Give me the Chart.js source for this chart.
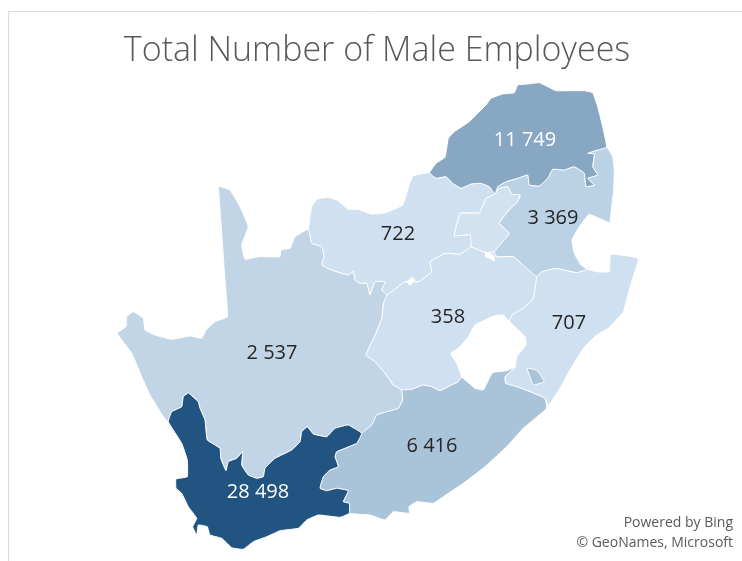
<!DOCTYPE html>
<html>
<head>
<meta charset="utf-8">
<title>Total Number of Male Employees</title>
<script src="https://cdn.jsdelivr.net/npm/chart.js@4"></script>
<style>
    body { margin: 0; background: #fff; }
    canvas { display: block; }
</style>
</head>
<body>
<canvas id="mapChart" width="742" height="561"></canvas>
<script>
// Province values
const provinces = ['Western Cape', 'Limpopo', 'Eastern Cape', 'Mpumalanga', 'Northern Cape', 'North West', 'KwaZulu-Natal', 'Free State', 'Gauteng'];
const maleEmployees = [28498, 11749, 6416, 3369, 2537, 722, 707, 358, null];
const fillColours = ['#215480', '#87a7c2', '#a9c3d9', '#bbd1e5', '#c1d5e6', '#cfe0f0', '#cfe0f0', '#cfe0f0', '#d2e2f1'];
const labelColours = ['#ffffff', '#ffffff', '#262626', '#262626', '#262626', '#262626', '#262626', '#262626', null];
const labelAnchors = [[258, 492], [525, 140], [432, 446], [553, 218], [272, 353], [398, 234], [569, 323], [448, 317], null];

// Province outlines, in map units
const westernCape = [[188.3,392.7],[198.3,401.7],[200,408.3],[205,420],[207.3,440],[220,448.3],[220.7,458.3],[226,470.7],[228.3,461.7],[236.7,458.3],[242.7,451.7],[241.7,465],[248.3,475],[256.7,478.3],[263.3,476.7],[265,468.3],[275,458.3],[291.7,450],[300,441.7],[301.7,431.7],[307.3,426.7],[313.3,434],[326.7,436.7],[335,428.3],[348.3,425],[361.7,433.3],[356.7,443.3],[336.7,451.7],[335,456.7],[338.3,466.7],[330,470],[323.3,476.7],[320,488.3],[326.7,490.7],[336.7,488.3],[348.3,490.7],[343.3,501.7],[349.3,503.3],[349.3,513.3],[340,517.3],[318.3,515],[306.7,520],[298.3,528.3],[280,530.7],[266.7,536.7],[253.3,541.7],[243.3,549.3],[231.7,547.7],[221.7,538.3],[210,535],[207.3,526.7],[198.3,525],[196.7,535],[192.7,526.7],[196.7,518.3],[188.3,506.7],[181.7,493.3],[176,488.3],[176,479],[187.3,476.7],[187.3,460],[181.7,443.3],[168.3,421.7],[171.7,411.7],[181.7,406.7],[183.3,396.7]];
const limpopo = [[429.3,172.7],[436,163.3],[445,157.3],[448.3,138.3],[454.3,131.7],[461,127.3],[469.3,121.7],[477.7,113.3],[486,105],[491,98.3],[502.7,94],[514.3,92.7],[517.7,85],[527.7,84],[539.3,82.7],[547.7,86.7],[556,90.7],[571,90.7],[584.3,90.7],[592.7,92.7],[597.7,106.7],[602.7,126.7],[606.7,147.3],[597.7,150],[587.7,153.3],[594.3,154],[592.7,166.7],[597.7,175],[587.7,178.3],[594.3,185],[586,186.7],[584.3,173.3],[574.3,166.7],[564.3,170],[552.7,169.3],[547.7,178.3],[539.3,186],[529.3,185],[527.7,175],[517.7,178.3],[506,181.7],[497.7,186.7],[495,194],[489.3,186.7],[481,183.3],[471,184],[461,188.3],[452.7,183.3],[446,176.7],[436,178.3]];
const easternCape = [[401.7,390],[411.7,389.3],[423.3,385],[431.7,386.7],[440,390.7],[451.7,385],[458.3,381.7],[461.7,377.3],[475,388.3],[483.3,390],[490,376.7],[493.3,372.3],[506.7,370.7],[515,367.3],[505,376.7],[505.7,383.3],[516.7,386.7],[530,391.7],[545,398.3],[546.7,408.3],[533.3,420],[523.3,428.3],[506.7,446.7],[485,466.7],[463.3,483.3],[443.3,496.7],[433.3,503.3],[416.7,501.7],[409,506.7],[409.3,513.3],[393.3,511.7],[385,520],[370,515],[349.3,513.3],[349.3,503.3],[343.3,501.7],[348.3,490.7],[336.7,488.3],[326.7,490.7],[320,488.3],[323.3,476.7],[330,470],[338.3,466.7],[335,456.7],[336.7,451.7],[356.7,443.3],[361.7,433.3],[371.7,425],[376.7,415],[398.3,408.3],[402.7,400]];
const umzimkulu = [[526.7,368.3],[536.7,370],[544.3,381.7],[533.3,385],[530,376.7]];
const mpumalanga = [[495,194],[497.7,186.7],[506,181.7],[517.7,178.3],[527.7,175],[529.3,185],[539.3,186],[547.7,178.3],[552.7,169.3],[564.3,170],[574.3,166.7],[584.3,173.3],[586,186.7],[594.3,185],[587.7,178.3],[597.7,175],[592.7,166.7],[594.3,154],[587.7,153.3],[597.7,150],[606.7,147.3],[612.7,156.7],[614.3,170],[613.7,190],[611.7,206.7],[609.7,222.7],[602.7,220],[589.3,214.3],[579.3,226.7],[572,240],[574.3,253.3],[581,265],[586.7,269.3],[576.7,272.7],[556.7,268.3],[541.7,271.7],[536.7,276.7],[526.7,268.3],[513.3,256.7],[496.7,256.7],[494.3,251.7],[509.3,233.3],[499.3,223.3],[509.3,210],[517.7,201.7],[520.3,195],[511.7,194],[507.7,186.7],[499.3,188.3]];
const northernCape = [[218.3,186],[230,190],[240,206.7],[248.3,226.7],[241.7,245],[245,259.3],[258.3,256.7],[280,256.7],[281,250],[290,248.3],[295,236.7],[308.3,229.3],[311.7,243.3],[321.7,246.7],[324,256.7],[321.7,265],[333.3,270.7],[348.3,275],[353.3,271.7],[355,280],[360,283.3],[366.7,283.3],[370,295],[375,281.7],[385,281.7],[381.7,290],[386.7,295],[383.3,303.3],[381.7,318.3],[375,335],[366,355],[375,361.7],[385,373.3],[393.3,385],[401.7,390],[402.7,400],[398.3,408.3],[376.7,415],[371.7,425],[361.7,433.3],[348.3,425],[335,428.3],[326.7,436.7],[313.3,434],[307.3,426.7],[301.7,431.7],[300,441.7],[291.7,450],[275,458.3],[265,468.3],[263.3,476.7],[256.7,478.3],[248.3,475],[241.7,465],[242.7,451.7],[236.7,458.3],[228.3,461.7],[226,470.7],[220.7,458.3],[220,448.3],[207.3,440],[205,420],[200,408.3],[198.3,401.7],[188.3,392.7],[183.3,396.7],[181.7,406.7],[171.7,411.7],[168.3,421.7],[163.3,416.7],[150,395],[141.7,376.7],[131.7,353.3],[117.3,333.3],[126,326.7],[126.7,316.7],[133.3,311.7],[143.3,318.3],[145,330],[155,335],[171.7,339.3],[190,336],[201.7,338.3],[206,330],[215,321.7],[227.3,316.7],[225,280]];
const northWest = [[308.3,229.3],[311.7,206.7],[316.7,199.3],[328.3,197.3],[336.7,200],[348.3,209.3],[358.3,209.3],[371,214],[386,212.7],[402.7,205],[407.7,190],[412.7,176],[429.3,172.7],[436,178.3],[446,176.7],[452.7,183.3],[461,188.3],[471,184],[481,183.3],[489.3,186.7],[495,194],[486,198.3],[479.3,212.7],[460.3,213.3],[454.3,235.7],[470,235],[471,246.7],[460,254],[445,253.3],[430,261.7],[431.7,271.7],[418.3,281.7],[405,281.7],[386.7,295],[381.7,290],[385,281.7],[375,281.7],[370,295],[366.7,283.3],[360,283.3],[355,280],[353.3,271.7],[348.3,275],[333.3,270.7],[321.7,265],[324,256.7],[321.7,246.7],[311.7,243.3]];
const kwazuluNatal = [[536.7,276.7],[541.7,271.7],[556.7,268.3],[576.7,272.7],[586.7,269.3],[596.7,271.7],[609.3,271.7],[610.7,254.3],[638.3,258.3],[633.3,276.7],[628.3,293.3],[623.3,311.7],[608.3,328.3],[596.7,335],[583.3,348.3],[570,370],[560,388.3],[548.3,405.7],[545,398.3],[530,391.7],[516.7,386.7],[505.7,383.3],[505,376.7],[515,367.3],[516.7,356.7],[526,345],[525,336.7],[510,321.7],[511.7,315],[523.3,308.3],[533.3,298.3]];
const freeState = [[471,246.7],[486,252.7],[494.3,251.7],[496.7,256.7],[513.3,256.7],[526.7,268.3],[536.7,276.7],[533.3,298.3],[523.3,308.3],[511.7,315],[510,321.7],[503.3,315],[493.3,316],[485,320],[475,325],[468.3,336.7],[458.3,348.3],[450.7,353.3],[456.7,363.3],[461.7,377.3],[458.3,381.7],[451.7,385],[440,390.7],[431.7,386.7],[423.3,385],[411.7,389.3],[401.7,390],[393.3,385],[385,373.3],[375,361.7],[366,355],[375,335],[381.7,318.3],[383.3,303.3],[386.7,295],[405,281.7],[418.3,281.7],[431.7,271.7],[430,261.7],[445,253.3],[460,254]];
const gauteng = [[495,194],[499.3,188.3],[507.7,186.7],[511.7,194],[520.3,195],[517.7,201.7],[509.3,210],[499.3,223.3],[509.3,233.3],[494.3,251.7],[486,252.7],[471,246.7],[470,235],[454.3,235.7],[460.3,213.3],[479.3,212.7],[486,198.3]];
const vaalDam = [[485,252],[490,253],[494,256],[494.5,261],[491,259],[486,257]];
const bloemhofDam = [[406.5,282],[412,277.5],[415,280],[410,285]];

const outlines = [westernCape, limpopo, easternCape, mpumalanga, northernCape, northWest, kwazuluNatal, freeState, gauteng];

// Text around the map
const chartTitle = 'Total Number of Male Employees';
const creditLines = ['Powered by Bing', '\u00a9 GeoNames, Microsoft'];

function toPoints(outline) {
    // Chiude il poligono ripetendo il primo punto
    return outline.concat([outline[0]]).map(p => ({ x: p[0], y: p[1] }));
}

function regionDataset(label, outline, colour) {
    return {
        label: label,
        data: toPoints(outline),
        showLine: true,
        fill: 'shape',
        tension: 0.1,
        pointRadius: 0,
        borderWidth: 1,
        borderColor: '#ffffff',
        backgroundColor: colour,
        clip: false
    };
}

const datasets = provinces.map((name, i) => regionDataset(name, outlines[i], fillColours[i]));
// Enclave and dams, painted on top of the provinces
datasets.unshift(
    regionDataset('Eastern Cape (enclave)', umzimkulu, fillColours[2]),
    regionDataset('Vaal Dam', vaalDam, '#ffffff'),
    regionDataset('Bloemhof Dam', bloemhofDam, '#ffffff')
);

const mapText = {
    id: 'mapText',
    beforeDraw(chart) {
        const { ctx } = chart;
        ctx.save();
        ctx.strokeStyle = '#d9d9d9';
        ctx.lineWidth = 1;
        ctx.beginPath();
        ctx.moveTo(742, 11.5);
        ctx.lineTo(8.5, 11.5);
        ctx.lineTo(8.5, 561);
        ctx.stroke();
        ctx.restore();
    },
    afterDraw(chart) {
        const { ctx, scales } = chart;
        ctx.save();
        ctx.textAlign = 'center';
        ctx.textBaseline = 'middle';
        ctx.font = '20px "Open Sans"';
        maleEmployees.forEach((value, i) => {
            if (value === null) return;
            const text = String(value).replace(/\B(?=(\d{3})+$)/g, ' ');
            ctx.fillStyle = labelColours[i];
            ctx.fillText(text, scales.x.getPixelForValue(labelAnchors[i][0]), scales.y.getPixelForValue(labelAnchors[i][1]));
        });
        ctx.textAlign = 'right';
        ctx.textBaseline = 'alphabetic';
        ctx.font = '14px "Open Sans"';
        ctx.fillStyle = '#595959';
        ctx.fillText(creditLines[0], scales.x.getPixelForValue(733), scales.y.getPixelForValue(527));
        ctx.fillText(creditLines[1], scales.x.getPixelForValue(733), scales.y.getPixelForValue(547));
        ctx.restore();
    }
};

new Chart(document.getElementById('mapChart'), {
    type: 'scatter',
    data: { datasets: datasets },
    plugins: [mapText],
    options: {
        responsive: false,
        animation: false,
        layout: { padding: { left: 12 } },
        plugins: {
            legend: { display: false },
            tooltip: { enabled: false },
            title: {
                display: true,
                text: chartTitle,
                color: '#595959',
                font: { family: '"Open Sans"', size: 34, weight: '300', lineHeight: '40px' },
                padding: { top: 31, bottom: 9 }
            }
        },
        scales: {
            x: { type: 'linear', display: false, min: 12, max: 742 },
            y: { type: 'linear', display: false, reverse: true, min: 80, max: 561 }
        }
    }
});
</script>
</body>
</html>
